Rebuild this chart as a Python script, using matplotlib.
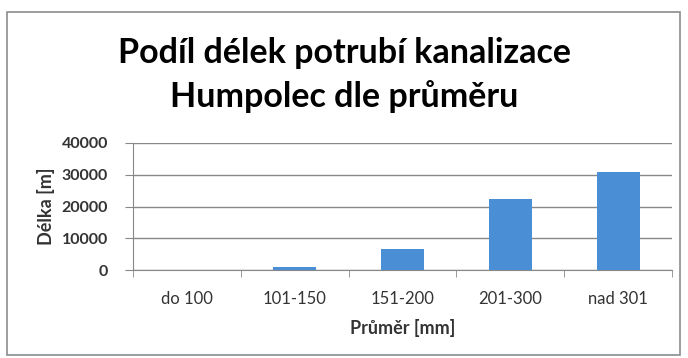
import matplotlib.pyplot as plt
from matplotlib.patches import Rectangle

categories = ["do 100", "101-150", "151-200", "201-300", "nad 301"]
lengths = [100, 1000, 6600, 22300, 31000]
y_ticks = [0, 10000, 20000, 30000, 40000]

plt.rcParams['font.family'] = ['Lato', 'DejaVu Sans']

fig = plt.figure(figsize=(6.88, 3.58), dpi=100)
W, H = 688, 358

# chart frame
fig.patches.append(Rectangle((7 / W, 3 / H), 673 / W, 343 / H, transform=fig.transFigure,
                             fill=False, edgecolor="#8c8c8c", linewidth=1.2))

ax = fig.add_axes([133 / W, (H - 270) / H, (672 - 133) / W, 127 / H])
x = list(range(len(categories)))
ax.bar(x, lengths, width=0.4, color="#4a8fd6", zorder=3)

ax.set_xlim(-0.5, len(categories) - 0.5)
ax.set_ylim(0, 40000)
ax.set_yticks(y_ticks)
ax.set_yticklabels([str(v) for v in y_ticks], fontsize=11.5, fontweight="bold", color="#333333")
ax.set_xticks(x)
ax.set_xticklabels(categories, fontsize=12, color="#333333")
ax.tick_params(axis="x", length=0, pad=15)
ax.set_xticks([i + 0.5 for i in range(-1, len(categories))], minor=True)
ax.tick_params(axis="x", which="minor", length=5, direction="out", color="#888888")
ax.tick_params(axis="y", length=6, direction="out", color="#888888", pad=12)
ax.grid(axis="y", color="#888888", linewidth=1, zorder=0)

for side in ["top", "right"]:
    ax.spines[side].set_visible(False)
ax.spines["left"].set_color("#888888")
ax.spines["bottom"].set_color("#888888")

ax.set_ylabel("Délka [m]", fontsize=13, fontweight="bold", color="#333333", labelpad=5)
ax.set_xlabel("Průměr [mm]", fontsize=13, fontweight="bold", color="#333333", labelpad=9)

fig.text(0.5, (H - 75) / H, "Podíl délek potrubí kanalizace\nHumpolec dle průměru",
         ha="center", va="center", fontsize=24.5, fontweight="bold", linespacing=1.38)

fig.savefig("out.png", dpi=100)
